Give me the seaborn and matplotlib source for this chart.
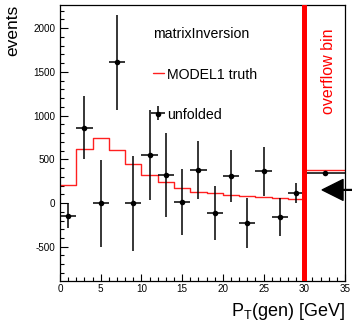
import numpy as np
import pandas as pd
import matplotlib
matplotlib.use("Agg")
import matplotlib.pyplot as plt
import seaborn as sns
from matplotlib.ticker import MultipleLocator
from matplotlib.legend_handler import HandlerTuple

# ---- data ----
bin_edges = [0, 2, 4, 6, 8, 10, 12, 14, 16, 18, 20, 22, 24, 26, 28, 30, 35]
truth = [201, 618, 744, 610, 450, 316, 240, 170, 130, 110, 95, 78, 64, 52, 45, 381]
unfolded = [-145, 861, -5, 1609, -5, 550, 324, 12, 381, -114, 312, -229, 362, -160, 114, 340]
unfolded_err = [140, 360, 497, 548, 540, 510, 480, 378, 330, 310, 295, 290, 280, 220, 115, 15]
overflow_edge = 30
arrow_tip = (32.2, 150)
arrow_tail = (36.5, 150)

edges = np.array(bin_edges, dtype=float)
centers = 0.5 * (edges[:-1] + edges[1:])
halfw = 0.5 * (edges[1:] - edges[:-1])
df = pd.DataFrame({"pt": centers, "truth": truth, "unfolded": unfolded})

sns.set_style("ticks")
plt.rcParams["font.family"] = ["Liberation Sans", "DejaVu Sans"]
plt.rcParams["axes.unicode_minus"] = False
plt.rcParams["mathtext.fontset"] = "custom"
plt.rcParams["mathtext.rm"] = "Liberation Sans"
plt.rcParams["mathtext.it"] = "Liberation Sans"
for k in ["text.color", "axes.labelcolor", "xtick.color", "ytick.color",
          "axes.edgecolor"]:
    plt.rcParams[k] = "black"

fig = plt.figure(figsize=(3.52, 3.24), dpi=100)
ax = fig.add_axes([0.1705, 0.1336, 0.8096, 0.851])

# truth histogram
sns.histplot(data=df, x="pt", weights="truth", bins=list(edges), element="step",
             fill=False, color="#ff2020", linewidth=1.0, ax=ax)
truth_line = ax.lines[-1]

# unfolded points
err = ax.errorbar(centers, unfolded, xerr=halfw, yerr=unfolded_err, fmt="none",
                  ecolor="black", elinewidth=1.1, capsize=0, zorder=3)
sns.scatterplot(data=df, x="pt", y="unfolded", color="black", s=16, linewidth=0,
                ax=ax, zorder=4, legend=False)
dots = ax.collections[-1]

# overflow marker line
ax.axvline(overflow_edge, color="#ff0000", linewidth=3.6, zorder=5)
ax.text(32.95, 1511, "overflow bin", rotation=90, ha="center", va="center",
        color="#ff0000", fontsize=11.5)

ax.annotate("", xy=arrow_tip, xytext=arrow_tail, xycoords="data",
            arrowprops=dict(facecolor="black", edgecolor="black", width=0.6,
                            headwidth=15, headlength=15, shrink=0),
            annotation_clip=False, zorder=6)

ax.set_xlim(0, 35)
ax.set_ylim(-889, 2266)

ax.xaxis.set_major_locator(MultipleLocator(5))
ax.xaxis.set_minor_locator(MultipleLocator(1))
ax.yaxis.set_major_locator(MultipleLocator(500))
ax.yaxis.set_minor_locator(MultipleLocator(100))
ax.tick_params(axis="both", which="both", direction="in", top=False, right=False,
               labelsize=7.1, colors="black")
ax.tick_params(axis="y", which="major", length=5.8, width=0.8, pad=3.5)
ax.tick_params(axis="y", which="minor", length=2.9, width=0.8)
ax.tick_params(axis="x", which="major", length=5.0, width=0.8, pad=2.5)
ax.tick_params(axis="x", which="minor", length=2.9, width=0.8)
for s in ax.spines.values():
    s.set_visible(True)
    s.set_color("black")
    s.set_linewidth(0.9)

ax.set_ylabel("events", fontsize=12.5, loc="top", color="black")
ax.yaxis.set_label_coords(-0.14, 1.0)
ax.set_xlabel(r"P$_{\mathrm{T}}$(gen) [GeV]", fontsize=13, loc="right", color="black")
ax.xaxis.set_label_coords(1.0, -0.072)
ax.xaxis.label.set_va("top")

leg = ax.legend([truth_line, (err, dots)], ["MODEL1 truth", "unfolded"],
                title="matrixInversion", loc="upper left",
                bbox_to_anchor=(0.326, 0.92), frameon=False, fontsize=10.2,
                title_fontsize=10.2, alignment="left", handlelength=0.75,
                handleheight=1.2, handletextpad=0.25, labelspacing=1.8,
                borderpad=0, borderaxespad=0,
                handler_map={tuple: HandlerTuple(ndivide=1)})
for t in leg.get_texts():
    t.set_color("black")
leg.get_title().set_color("black")

fig.savefig("out.png", dpi=100)
